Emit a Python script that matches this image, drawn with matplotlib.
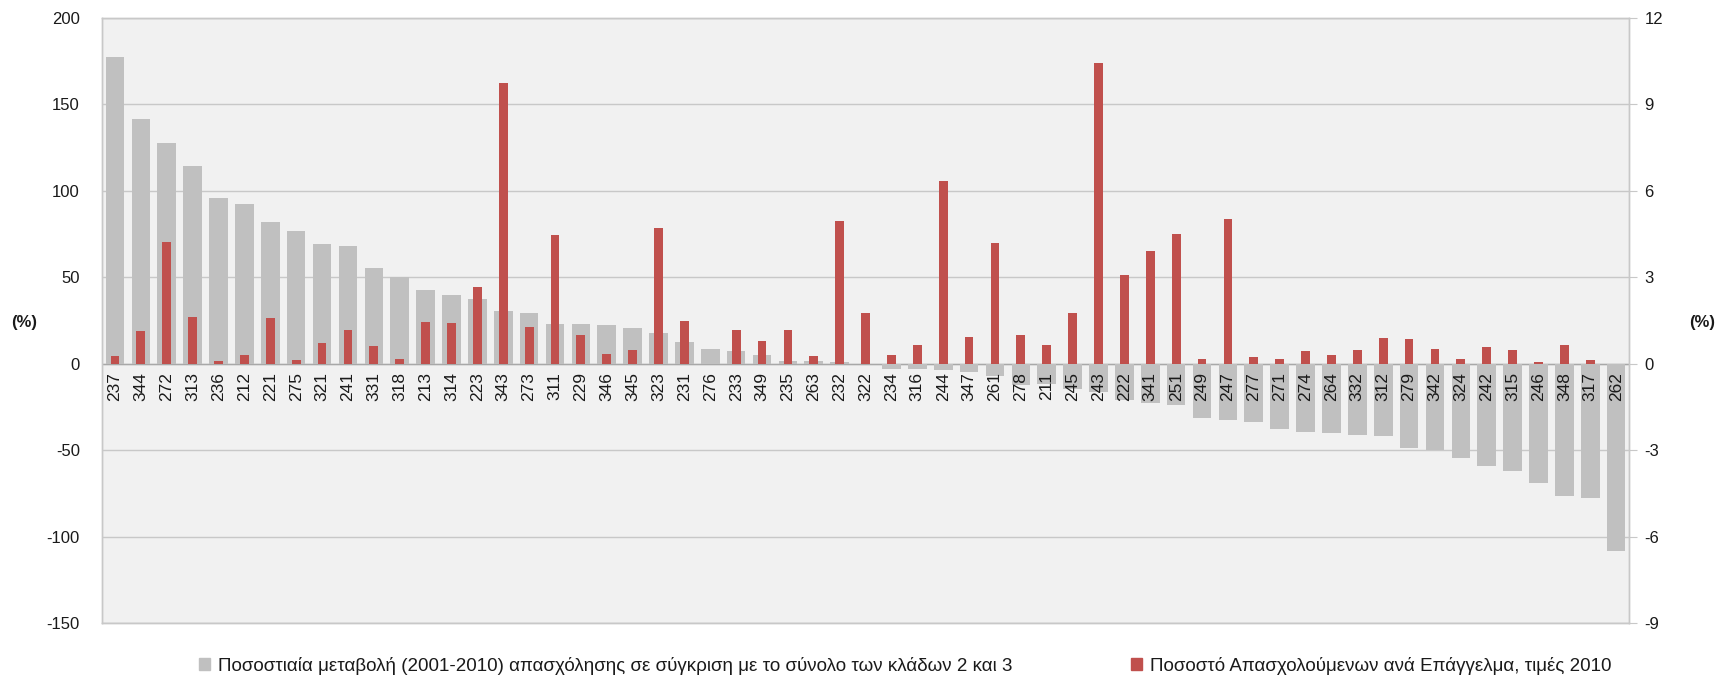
import matplotlib
matplotlib.use('Agg')
import matplotlib.pyplot as plt
from matplotlib.patches import Patch

plt.rcParams['font.family'] = ['Liberation Sans', 'DejaVu Sans']
plt.rcParams['axes.unicode_minus'] = False

# occupation codes, sorted by % change in employment
categories = ['237', '344', '272', '313', '236', '212', '221', '275', '321', '241',
              '331', '318', '213', '314', '223', '343', '273', '311', '229', '346',
              '345', '323', '231', '276', '233', '349', '235', '263', '232', '322',
              '234', '316', '244', '347', '261', '278', '211', '245', '243', '222',
              '341', '251', '249', '247', '277', '271', '274', '264', '332', '312',
              '279', '342', '324', '242', '315', '246', '348', '317', '262']

# % change 2001-2010 (left axis)
change = [177.4, 141.4, 127.3, 114.2, 95.9, 92.2, 81.6, 76.8, 69.4, 67.9,
          55.0, 50.0, 42.6, 39.9, 37.4, 30.5, 29.3, 22.6, 22.6, 22.2,
          20.8, 17.9, 12.5, 8.7, 7.1, 5.2, 1.7, 1.7, 0.8, -0.4,
          -3.0, -3.2, -4.0, -4.8, -7.4, -12.3, -12.0, -14.5, -16.6, -21.3,
          -23.0, -24.2, -31.6, -32.6, -33.5, -37.6, -39.5, -40.3, -41.5, -41.9,
          -49.0, -49.8, -54.8, -59.5, -62.2, -68.8, -76.6, -77.7, -108.3]

# share of employed per occupation, 2010 (right axis)
share = [0.25, 1.13, 4.21, 1.60, 0.10, 0.29, 1.57, 0.13, 0.72, 1.16,
         0.60, 0.16, 1.45, 1.39, 2.64, 9.72, 1.27, 4.46, 0.98, 0.34,
         0.46, 4.69, 1.46, 0.0, 1.18, 0.78, 1.18, 0.25, 4.94, 1.76,
         0.28, 0.63, 6.35, 0.93, 4.17, 0.98, 0.63, 1.76, 10.43, 3.06,
         3.92, 4.51, 0.16, 5.03, 0.23, 0.16, 0.43, 0.31, 0.46, 0.87,
         0.86, 0.49, 0.17, 0.58, 0.46, 0.05, 0.63, 0.14, 0.0]

label_change = 'Ποσοστιαία μεταβολή (2001-2010) απασχόλησης σε σύγκριση με το σύνολο των κλάδων 2 και 3'
label_share = 'Ποσοστό Απασχολούμενων ανά Επάγγελμα, τιμές 2010'

gray = '#c0c0c0'
red = '#c0504d'
grid_col = '#c8c8c8'
txt = '#1a1a1a'

fig = plt.figure(figsize=(17.27, 6.78), dpi=100)
ax = fig.add_axes([0.0591, 0.0811, 0.8842, 0.8929])
ax2 = ax.twinx()

x = list(range(len(categories)))
ax.bar(x, change, width=0.72, color=gray, zorder=2)
ax2.bar(x, share, width=0.34, color=red, zorder=2)

ax.set_facecolor('#f1f1f1')
ax.set_xlim(-0.5, len(categories) - 0.5)
ax.set_ylim(-150, 200)
ax.set_yticks(range(-150, 201, 50))
ax2.set_ylim(-9, 12)
ax2.set_yticks(range(-9, 13, 3))

ax.yaxis.grid(True, color=grid_col, lw=1, zorder=0)
ax.set_axisbelow(True)
ax.axhline(0, color='#a8a8a8', lw=1, zorder=1)
ax.set_xticks([])

for a in (ax, ax2):
    for s in a.spines.values():
        s.set_color(grid_col)
        s.set_linewidth(1)

ax.tick_params(axis='y', length=0, pad=16, labelsize=12, labelcolor=txt)
ax2.tick_params(axis='y', length=6, color=grid_col, pad=5, labelsize=12, labelcolor=txt)

ax.set_ylabel('(%)', rotation=0, fontweight='bold', fontsize=12, color=txt, va='center', ha='center')
ax.yaxis.set_label_coords(-0.051, 0.497)
ax2.set_ylabel('(%)', rotation=0, fontweight='bold', fontsize=12, color=txt, va='center', ha='center')
ax2.yaxis.set_label_coords(1.048, 0.497)

# category labels sit just under the zero line
for i, c in enumerate(categories):
    ax2.annotate(c, (i, 0), xytext=(0, -6), textcoords='offset points',
                 rotation=90, ha='center', va='top', fontsize=12.5, color=txt, zorder=5)

leg_kw = dict(frameon=False, fontsize=13.5, handlelength=0.6, handleheight=0.6,
              handletextpad=0.4, borderaxespad=0, borderpad=0)
for txt_label, col, xpos in [(label_change, gray, 199), (label_share, red, 1131)]:
    lg = fig.legend(handles=[Patch(color=col, label=txt_label)], loc='center left',
                    bbox_to_anchor=(xpos / 1727, 1 - 666 / 678), **leg_kw)
    for t in lg.get_texts():
        t.set_color(txt)

fig.savefig('out.png', dpi=100)
